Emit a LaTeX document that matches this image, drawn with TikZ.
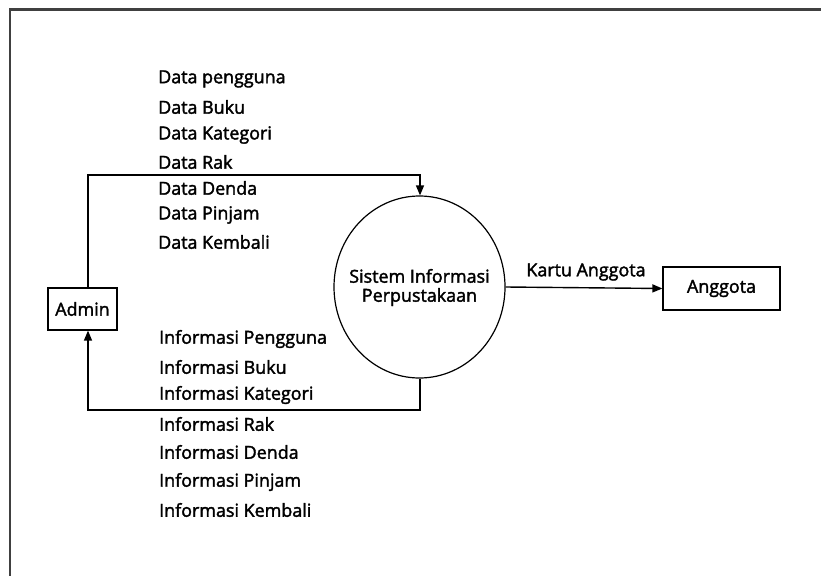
\documentclass[tikz,border=0pt]{standalone}
\usepackage{fontspec}
\setmainfont{Open Sans}[FakeBold=2]
\usetikzlibrary{arrows.meta,shapes.geometric}
\begin{document}
\begin{tikzpicture}[x={(1pt,0)},y={(0,-1pt)},
  every node/.style={font=\fontsize{17.9}{20}\selectfont, inner sep=0pt},
  ent/.style={draw, line width=1.2pt, rectangle},
  proc/.style={draw, line width=1.2pt, ellipse, align=center},
  flow/.style={line width=1.4pt, -{Triangle[length=10pt,width=8pt]}},
  lbl/.style={anchor=west},
  frame/.style={line width=2.2pt, draw=black!75}]
\useasboundingbox (0,0) rectangle (821,575);
\draw[frame] (10,576) -- (10,9.5) -- (822,9.5);

\node[ent, minimum width=69pt, minimum height=42pt] (admin) at (82.5,309) {Admin};
\node[proc, minimum width=171pt, minimum height=182pt] (sis) at (419.5,287) {};
\node (sistext) at (419.5,287.5) [align=center] {Sistem Informasi\\[-1pt]Perpustakaan};
\node[ent, minimum width=117pt, minimum height=43pt] (ang) at (721.5,288.5) {Anggota};

\coordinate (c1) at (88,175);
\coordinate (c2) at (420,175);
\coordinate (c3) at (420,410);
\coordinate (c4) at (88,410);

\draw[flow] (admin.north -| c1) -- (c1) -- (c2) -- (c2 |- sis.north);
\draw[flow] (c3 |- sis.south) -- (c3) -- (c4) -- (admin.south -| c4);
\draw[flow] (sis.east) -- (ang.west);

\node (kartu) at (586,272) {Kartu Anggota};

\node[lbl] (d1) at (158,79) {Data pengguna};
\node[lbl] (d2) at (158,107) {Data Buku};
\node[lbl] (d3) at (158,135) {Data Kategori};
\node[lbl] (d4) at (158,162) {Data Rak};
\node[lbl] (d5) at (158,188) {Data Denda};
\node[lbl] (d6) at (158,215) {Data Pinjam};
\node[lbl] (d7) at (158,242) {Data Kembali};

\node[lbl] (i1) at (159,339) {Informasi Pengguna};
\node[lbl] (i2) at (159,367) {Informasi Buku};
\node[lbl] (i3) at (159,395) {Informasi Kategori};
\node[lbl] (i4) at (159,424) {Informasi Rak};
\node[lbl] (i5) at (159,452) {Informasi Denda};
\node[lbl] (i6) at (159,482) {Informasi Pinjam};
\node[lbl] (i7) at (159,510) {Informasi Kembali};
\end{tikzpicture}
\end{document}
